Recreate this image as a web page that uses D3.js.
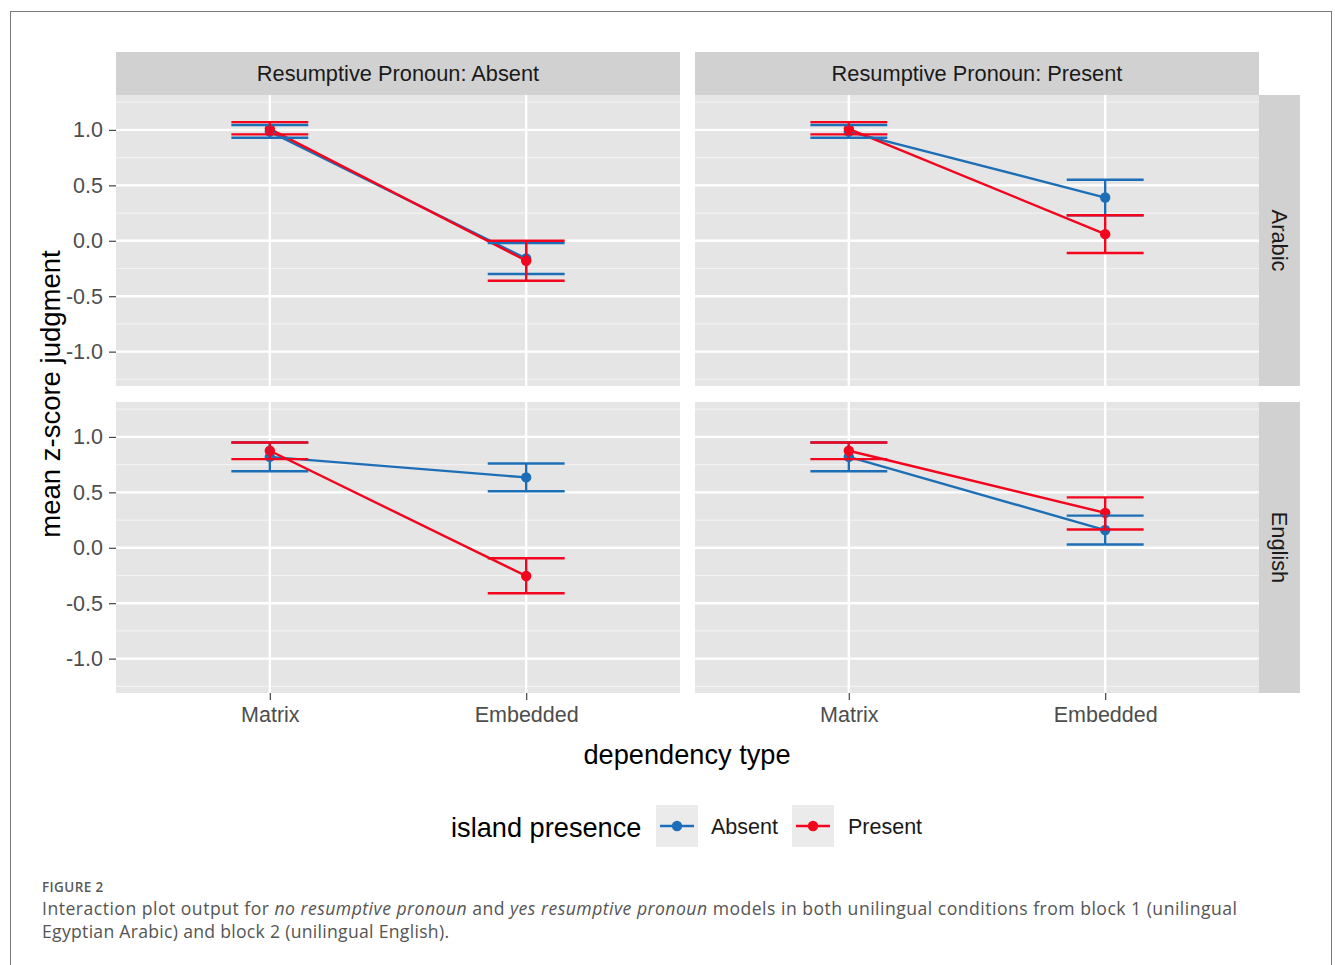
<!DOCTYPE html>
<html><head><meta charset="utf-8">
<script src="https://cdn.jsdelivr.net/npm/d3@7"></script>
<style>body{margin:0;background:#fff}svg{display:block}</style>
</head><body>
<svg id="c" width="1335" height="965"></svg>
<script>
// ---- data ----
const depTypes = ["Matrix", "Embedded"];
const rpLevels = ["Absent", "Present"];          // facet columns
const languages = ["Arabic", "English"];         // facet rows
const islandLevels = ["Absent", "Present"];
const yTicks = [-1.0, -0.5, 0.0, 0.5, 1.0];
const yMinor = [-1.25, -0.75, -0.25, 0.25, 0.75, 1.25];
// values indexed [row(language)][col(rp)][depType]
const absentMean = [[[0.985, -0.16], [0.985, 0.39]], [[0.82, 0.635], [0.82, 0.16]]];
const absentLow  = [[[0.93, -0.30], [0.93, 0.23]], [[0.69, 0.51], [0.69, 0.03]]];
const absentHigh = [[[1.045, -0.02], [1.045, 0.55]], [[0.95, 0.76], [0.95, 0.29]]];
const presentMean = [[[1.01, -0.18], [1.01, 0.06]], [[0.875, -0.255], [0.875, 0.315]]];
const presentLow  = [[[0.96, -0.36], [0.96, -0.11]], [[0.80, -0.41], [0.80, 0.165]]];
const presentHigh = [[[1.07, 0.0], [1.07, 0.23]], [[0.95, -0.095], [0.95, 0.455]]];
const colors = ["#1c6fb6", "#f2051d"];

const series = [
  {name: islandLevels[0], mean: absentMean, low: absentLow, high: absentHigh, color: colors[0]},
  {name: islandLevels[1], mean: presentMean, low: presentLow, high: presentHigh, color: colors[1]}
];

// ---- layout ----
const svg = d3.select("#c");
const font = "'Liberation Sans', Arial, sans-serif";
svg.append("rect").attr("x", 10.5).attr("y", 11.5).attr("width", 1321).attr("height", 1000)
  .attr("fill", "#fff").attr("stroke", "#7a7a7a").attr("stroke-width", 1);

const panelX = [116, 695], panelY = [95, 402], pw = 564, ph = 291;
const x = d3.scalePoint().domain(depTypes).range([0, pw]).padding(0.6);
const y = d3.scaleLinear().domain([-1.31, 1.315]).range([ph, 0]);
const halfW = x.step() * 0.15;

languages.forEach((lang, r) => {
  rpLevels.forEach((rp, c) => {
    const g = svg.append("g").attr("transform", `translate(${panelX[c]},${panelY[r]})`);
    g.append("rect").attr("width", pw).attr("height", ph).attr("fill", "#e5e5e5");
    g.selectAll(".mn").data(yMinor).join("line")
      .attr("x1", 0).attr("x2", pw).attr("y1", d => y(d)).attr("y2", d => y(d))
      .attr("stroke", "#f2f2f2").attr("stroke-width", 1.2);
    g.selectAll(".mj").data(yTicks).join("line")
      .attr("x1", 0).attr("x2", pw).attr("y1", d => y(d)).attr("y2", d => y(d))
      .attr("stroke", "#fff").attr("stroke-width", 2.4);
    g.selectAll(".vx").data(depTypes).join("line")
      .attr("x1", d => x(d)).attr("x2", d => x(d)).attr("y1", 0).attr("y2", ph)
      .attr("stroke", "#fff").attr("stroke-width", 2.4);

    const line = d3.line().x((d, i) => x(depTypes[i])).y(d => y(d));
    series.forEach(s => {
      g.append("path").attr("d", line(s.mean[r][c])).attr("fill", "none")
        .attr("stroke", s.color).attr("stroke-width", 2.4);
    });
    series.forEach(s => {
      g.selectAll(null).data(s.mean[r][c]).join("circle")
        .attr("cx", (d, i) => x(depTypes[i])).attr("cy", d => y(d)).attr("r", 5.2)
        .attr("fill", s.color);
    });
    series.forEach(s => {
      depTypes.forEach((dt, i) => {
        const lo = s.low[r][c][i], hi = s.high[r][c][i], cx = x(dt);
        const eb = g.append("g").attr("stroke", s.color).attr("stroke-width", 2.4);
        eb.append("line").attr("x1", cx).attr("x2", cx).attr("y1", y(lo)).attr("y2", y(hi));
        eb.append("line").attr("x1", cx - halfW).attr("x2", cx + halfW).attr("y1", y(lo)).attr("y2", y(lo));
        eb.append("line").attr("x1", cx - halfW).attr("x2", cx + halfW).attr("y1", y(hi)).attr("y2", y(hi));
      });
    });

    // left axis
    if (c === 0) {
      const ax = d3.axisLeft(y).tickValues(yTicks).tickFormat(d3.format(".1f")).tickSize(7).tickPadding(6);
      const a = g.append("g").call(ax);
      a.select(".domain").remove();
      a.selectAll("line").attr("stroke", "#444").attr("stroke-width", 1.2);
      a.selectAll("text").attr("font-family", font).attr("font-size", 21.5).attr("fill", "#4d4d4d")
        .text(d => d3.format(".1f")(d).replace("−", "-"));
    }
    // bottom axis
    if (r === 1) {
      const ax = d3.axisBottom(x).tickSize(7).tickPadding(7);
      const a = g.append("g").attr("transform", `translate(0,${ph})`).call(ax);
      a.select(".domain").remove();
      a.selectAll("line").attr("stroke", "#444").attr("stroke-width", 1.2);
      a.selectAll("text").attr("font-family", font).attr("font-size", 21.5).attr("fill", "#4d4d4d");
    }
    // top strip
    if (r === 0) {
      svg.append("rect").attr("x", panelX[c]).attr("y", 52).attr("width", pw).attr("height", 43).attr("fill", "#d1d1d1");
      svg.append("text").attr("x", panelX[c] + pw / 2).attr("y", 73.5).attr("text-anchor", "middle")
        .attr("dominant-baseline", "central").attr("font-family", font).attr("font-size", 21.8)
        .attr("fill", "#1a1a1a").text("Resumptive Pronoun: " + rp);
    }
    // right strip
    if (c === 1) {
      svg.append("rect").attr("x", 1259).attr("y", panelY[r]).attr("width", 41).attr("height", ph).attr("fill", "#d1d1d1");
      svg.append("text").attr("transform", `translate(1279.5,${panelY[r] + ph / 2}) rotate(90)`)
        .attr("text-anchor", "middle").attr("dominant-baseline", "central")
        .attr("font-family", font).attr("font-size", 21.8).attr("fill", "#1a1a1a").text(lang);
    }
  });
});

// axis titles
svg.append("text").attr("transform", "translate(50,394) rotate(-90)").attr("text-anchor", "middle")
  .attr("dominant-baseline", "central").attr("font-family", font).attr("font-size", 27.5).attr("fill", "#000")
  .text("mean z-score judgment");
svg.append("text").attr("x", 687).attr("y", 754).attr("text-anchor", "middle").attr("dominant-baseline", "central")
  .attr("font-family", font).attr("font-size", 27.2).attr("fill", "#000").text("dependency type");

// legend
svg.append("text").attr("x", 451).attr("y", 827).attr("dominant-baseline", "central")
  .attr("font-family", font).attr("font-size", 27.2).attr("fill", "#000").text("island presence");
const legX = [656, 792], labX = [711, 848];
series.forEach((s, i) => {
  const lg = svg.append("g").attr("transform", `translate(${legX[i]},805)`);
  lg.append("rect").attr("width", 42).attr("height", 42).attr("fill", "#ebebeb");
  lg.append("line").attr("x1", 4).attr("x2", 38).attr("y1", 21).attr("y2", 21).attr("stroke", s.color).attr("stroke-width", 2.6);
  lg.append("circle").attr("cx", 21).attr("cy", 21).attr("r", 5.2).attr("fill", s.color);
  svg.append("text").attr("x", labX[i]).attr("y", 827).attr("dominant-baseline", "central")
    .attr("font-family", font).attr("font-size", 21.5).attr("fill", "#1a1a1a").text(s.name);
});

// caption
const cfont = "'Open Sans', 'Noto Sans', sans-serif";
svg.append("text").attr("x", 42).attr("y", 892).attr("font-family", cfont).attr("font-size", 13.5)
  .attr("font-weight", 600).attr("letter-spacing", 0.4).attr("fill", "#5a5a5a").text("FIGURE 2");
const cap1 = svg.append("text").attr("x", 42).attr("y", 915).attr("font-family", cfont).attr("font-size", 17.6)
  .attr("fill", "#555").attr("textLength", 1195).attr("lengthAdjust", "spacing");
cap1.append("tspan").text("Interaction plot output for ");
cap1.append("tspan").attr("font-style", "italic").text("no resumptive pronoun");
cap1.append("tspan").text(" and ");
cap1.append("tspan").attr("font-style", "italic").text("yes resumptive pronoun");
cap1.append("tspan").text(" models in both unilingual conditions from block 1 (unilingual");
svg.append("text").attr("x", 42).attr("y", 938).attr("font-family", cfont).attr("font-size", 17.6)
  .attr("fill", "#555").attr("textLength", 407).attr("lengthAdjust", "spacing")
  .text("Egyptian Arabic) and block 2 (unilingual English).");
</script>
</body></html>
